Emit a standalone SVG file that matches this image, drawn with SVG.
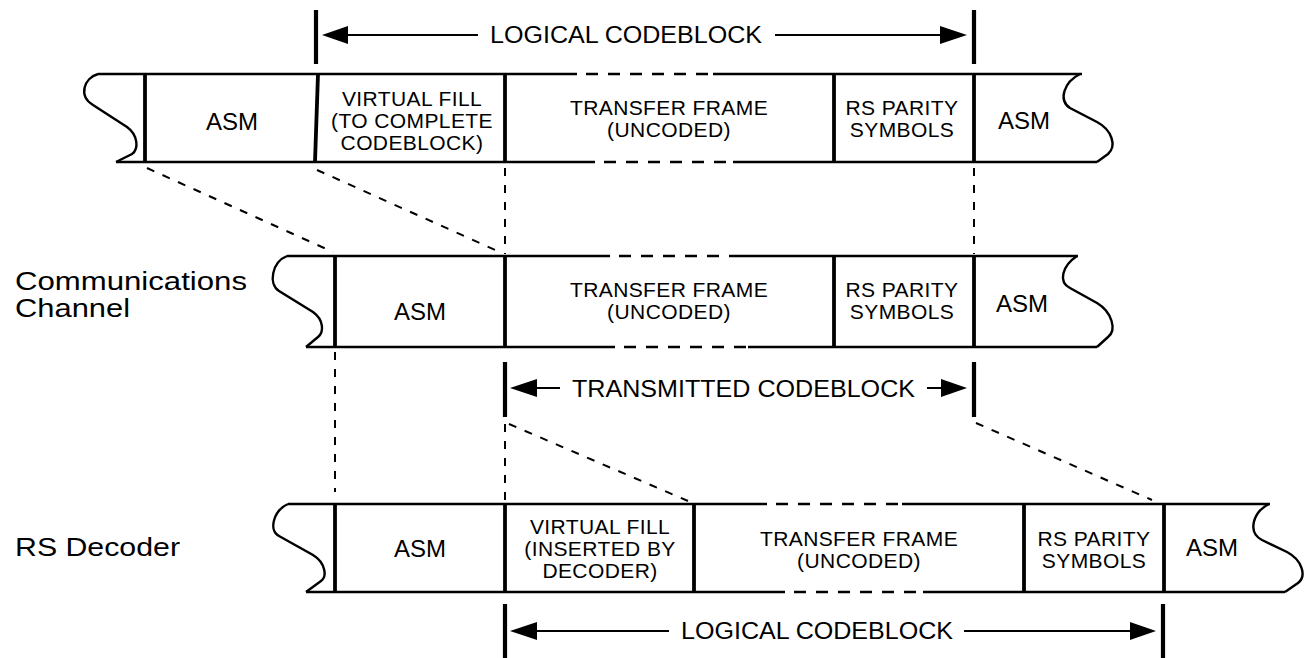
<svg xmlns="http://www.w3.org/2000/svg" width="1308" height="658" viewBox="0 0 1308 658">
<defs>
<style>
.bg{fill:#fff}
.ol{stroke:#000;stroke-width:2.4;fill:none;stroke-linecap:butt}
.od{stroke:#000;stroke-width:2.4;fill:none;stroke-dasharray:12 10}
.dv{stroke:#000;stroke-width:3.8;fill:none}
.tk{stroke:#000;stroke-width:4.2;fill:none}
.sh{stroke:#000;stroke-width:2;fill:none}
.cn{stroke:#000;stroke-width:2;fill:none;stroke-dasharray:8 9}
.hd{fill:#000;stroke:none}
text{font-family:"Liberation Sans",Arial,Helvetica,sans-serif;fill:#000}
.c{font-size:21px;letter-spacing:0.4px;text-anchor:middle}
.a{font-size:24px;text-anchor:middle}
.lb{font-size:25px}
.lr{font-size:26px}
.ar{font-size:23px}
</style>
</defs>
<rect class="bg" x="0" y="0" width="1308" height="658"/>

<!-- connectors (dashed projection lines) -->
<g id="connectors">
<line class="cn" x1="147" y1="168" x2="333" y2="252"/>
<line class="cn" x1="317" y1="170" x2="502" y2="253"/>
<line class="cn" x1="505" y1="168" x2="505" y2="254"/>
<line class="cn" x1="974" y1="168" x2="974" y2="254"/>
<line class="cn" x1="335" y1="352" x2="335" y2="492"/>
<line class="cn" x1="505" y1="424" x2="505" y2="502"/>
<line class="cn" x1="509" y1="424" x2="688" y2="501"/>
<line class="cn" x1="976" y1="423" x2="1152" y2="500"/>
</g>

<!-- top logical codeblock dimension -->
<g id="dim-top">
<line class="tk" x1="316" y1="10" x2="316" y2="64"/>
<line class="tk" x1="974" y1="10" x2="974" y2="64"/>
<line class="sh" x1="346" y1="35" x2="478" y2="35"/>
<polygon class="hd" points="322,35 348,26 348,44"/>
<line class="sh" x1="775" y1="35" x2="942" y2="35"/>
<polygon class="hd" points="967,35 940,26 940,44"/>
<text class="ar" x="490" y="43" textLength="272" lengthAdjust="spacingAndGlyphs">LOGICAL CODEBLOCK</text>
</g>

<!-- top row: codeblock before transmission -->
<g id="row-top">
<path class="ol" d="M98,74 L577,74 M713,74 L1082,74 M116,162 L595,162 M733,162 L1097,162"/>
<line class="od" x1="586" y1="74" x2="713" y2="74"/>
<line class="od" x1="604" y1="162" x2="733" y2="162"/>
<path class="ol" d="M98,74 C84,78 78,96 93,105 L127,127 C138,135 139,149 132,154 L116,162"/>
<path class="ol" d="M1080,74 C1064,82 1058,100 1070,108 L1097,122 C1112,130 1117,146 1108,154 L1097,162"/>
<line class="dv" x1="145" y1="74" x2="145" y2="162"/>
<line class="dv" x1="318" y1="74" x2="315" y2="162"/>
<line class="dv" x1="505" y1="74" x2="505" y2="162"/>
<line class="dv" x1="834" y1="74" x2="834" y2="162"/>
<line class="dv" x1="974" y1="74" x2="974" y2="162"/>
<text class="a" x="232" y="130">ASM</text>
<text class="c" x="412" y="106">VIRTUAL FILL</text>
<text class="c" x="412" y="128">(TO COMPLETE</text>
<text class="c" x="412" y="150">CODEBLOCK)</text>
<text class="c" x="669" y="115">TRANSFER FRAME</text>
<text class="c" x="669" y="137">(UNCODED)</text>
<text class="c" x="902" y="115">RS PARITY</text>
<text class="c" x="902" y="137">SYMBOLS</text>
<text class="a" x="1024" y="129">ASM</text>
</g>

<!-- middle row: communications channel -->
<g id="row-channel">
<text class="lb" x="15" y="290" textLength="232" lengthAdjust="spacingAndGlyphs">Communications</text>
<text class="lb" x="15" y="317" textLength="115" lengthAdjust="spacingAndGlyphs">Channel</text>
<path class="ol" d="M287,256 L610,256 M730,256 L1078,256 M306,347 L615,347 M748,347 L1097,347"/>
<line class="od" x1="619" y1="256" x2="730" y2="256"/>
<line class="od" x1="624" y1="347" x2="748" y2="347"/>
<path class="ol" d="M287,256 C272,262 268,284 279,291 L313,312 C324,320 324,332 318,337 L306,347"/>
<path class="ol" d="M1077,256 C1062,266 1058,282 1070,288 L1097,303 C1112,312 1117,330 1108,337 L1097,347"/>
<line class="dv" x1="335" y1="256" x2="335" y2="347"/>
<line class="dv" x1="505" y1="256" x2="505" y2="347"/>
<line class="dv" x1="834" y1="256" x2="834" y2="347"/>
<line class="dv" x1="974" y1="256" x2="974" y2="347"/>
<text class="a" x="420" y="320">ASM</text>
<text class="c" x="669" y="297">TRANSFER FRAME</text>
<text class="c" x="669" y="319">(UNCODED)</text>
<text class="c" x="902" y="297">RS PARITY</text>
<text class="c" x="902" y="319">SYMBOLS</text>
<text class="a" x="1022" y="312">ASM</text>
</g>

<!-- transmitted codeblock dimension -->
<g id="dim-transmitted">
<line class="tk" x1="505" y1="362" x2="505" y2="417"/>
<line class="tk" x1="974" y1="362" x2="974" y2="417"/>
<line class="sh" x1="535" y1="388" x2="560" y2="388"/>
<polygon class="hd" points="510,388 537,379 537,397"/>
<line class="sh" x1="927" y1="388" x2="945" y2="388"/>
<polygon class="hd" points="967,388 941,379 941,397"/>
<text class="ar" x="572" y="397" textLength="343" lengthAdjust="spacingAndGlyphs">TRANSMITTED CODEBLOCK</text>
</g>

<!-- bottom row: RS decoder -->
<g id="row-decoder">
<text class="lr" x="15" y="556" textLength="165" lengthAdjust="spacingAndGlyphs">RS Decoder</text>
<path class="ol" d="M288,504 L767,504 M902,504 L1270,504 M306,592 L785,592 M923,592 L1285,592"/>
<line class="od" x1="776" y1="504" x2="902" y2="504"/>
<line class="od" x1="794" y1="592" x2="923" y2="592"/>
<path class="ol" d="M288,504 C274,510 268,530 279,536 L313,555 C326,563 327,577 321,581 L306,592"/>
<path class="ol" d="M1269,504 C1253,512 1247,532 1262,540 L1287,552 C1302,560 1307,576 1298,583 L1285,592"/>
<line class="dv" x1="335" y1="504" x2="335" y2="592"/>
<line class="dv" x1="505" y1="504" x2="505" y2="592"/>
<line class="dv" x1="694" y1="504" x2="694" y2="592"/>
<line class="dv" x1="1024" y1="504" x2="1024" y2="592"/>
<line class="dv" x1="1164" y1="504" x2="1164" y2="592"/>
<text class="a" x="420" y="557">ASM</text>
<text class="c" x="600" y="534">VIRTUAL FILL</text>
<text class="c" x="600" y="556">(INSERTED BY</text>
<text class="c" x="600" y="578">DECODER)</text>
<text class="c" x="859" y="546">TRANSFER FRAME</text>
<text class="c" x="859" y="568">(UNCODED)</text>
<text class="c" x="1094" y="546">RS PARITY</text>
<text class="c" x="1094" y="568">SYMBOLS</text>
<text class="a" x="1212" y="556">ASM</text>
</g>

<!-- bottom logical codeblock dimension -->
<g id="dim-bottom">
<line class="tk" x1="505" y1="604" x2="505" y2="658"/>
<line class="tk" x1="1163" y1="604" x2="1163" y2="658"/>
<line class="sh" x1="535" y1="631" x2="669" y2="631"/>
<polygon class="hd" points="510,631 537,622 537,640"/>
<line class="sh" x1="964" y1="631" x2="1132" y2="631"/>
<polygon class="hd" points="1156,631 1130,622 1130,640"/>
<text class="ar" x="681" y="639" textLength="272" lengthAdjust="spacingAndGlyphs">LOGICAL CODEBLOCK</text>
</g>
</svg>
